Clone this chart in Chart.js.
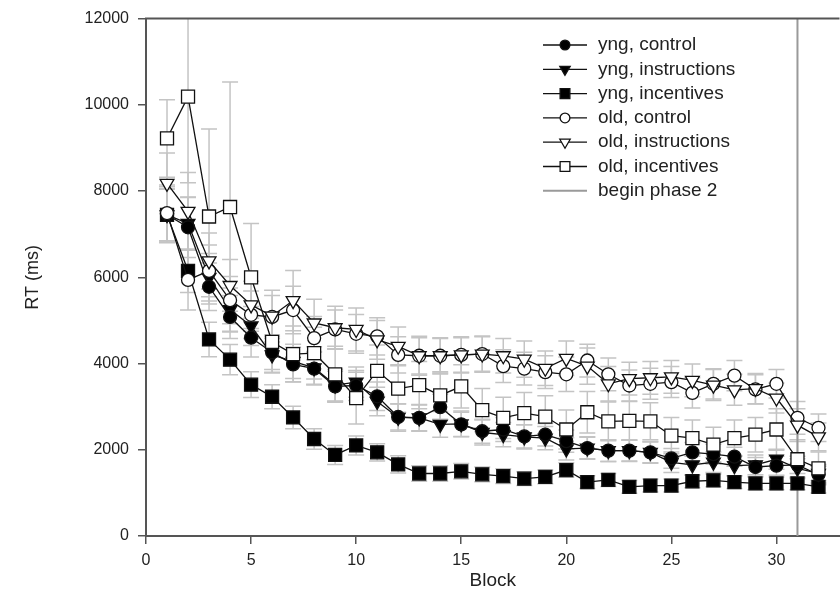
<!DOCTYPE html>
<html>
<head>
<meta charset="utf-8">
<script src="https://cdn.jsdelivr.net/npm/chart.js@4/dist/chart.umd.min.js"></script>
<style>
  html, body { margin: 0; padding: 0; background: #fff; overflow: hidden; }
</style>
</head>
<body>
<canvas id="rt" width="850" height="589"></canvas>
<script>
// block numbers
const blocks = [1, 2, 3, 4, 5, 6, 7, 8, 9, 10, 11, 12, 13, 14, 15, 16,
  17, 18, 19, 20, 21, 22, 23, 24, 25, 26, 27, 28, 29, 30, 31, 32];

// mean RT (ms) per group
const yngControl = [7450, 7160, 5780, 5080, 4600, 4260, 3980, 3880, 3470, 3490, 3240, 2760, 2740, 2990, 2590, 2430,
  2470, 2310, 2350, 2200, 2040, 1980, 1980, 1940, 1800, 1940, 1900, 1840, 1600, 1630, 1650, 1420];
const yngInstructions = [7450, 7250, 6000, 5250, 4870, 4200, 4050, 3900, 3500, 3570, 3120, 2750, 2740, 2590, 2600, 2400,
  2350, 2300, 2270, 2020, 2040, 1980, 1980, 1940, 1710, 1650, 1710, 1630, 1650, 1780, 1570, 1450];
const yngIncentives = [7450, 6150, 4560, 4090, 3510, 3230, 2750, 2250, 1880, 2100, 1940, 1660, 1450, 1450, 1500, 1430,
  1390, 1330, 1370, 1530, 1250, 1300, 1140, 1170, 1170, 1270, 1290, 1250, 1220, 1220, 1220, 1140];
const oldControl = [7490, 5940, 6150, 5470, 5130, 5080, 5240, 4590, 4790, 4690, 4630, 4200, 4180, 4180, 4200, 4220,
  3940, 3880, 3800, 3750, 4070, 3750, 3490, 3530, 3570, 3320, 3530, 3720, 3400, 3530, 2740, 2510];
const oldInstructions = [8180, 7530, 6380, 5810, 5360, 5100, 5460, 4940, 4830, 4790, 4550, 4400, 4180, 4180, 4200, 4220,
  4180, 4100, 3890, 4120, 3940, 3530, 3650, 3670, 3690, 3610, 3500, 3390, 3420, 3200, 2570, 2300];
const oldIncentives = [9220, 10190, 7410, 7630, 6000, 4500, 4220, 4240, 3750, 3200, 3830, 3420, 3500, 3260, 3470, 2920,
  2740, 2850, 2770, 2470, 2870, 2660, 2670, 2660, 2330, 2270, 2120, 2270, 2350, 2470, 1780, 1570];

// error bar half-lengths (ms)
const yngControlErr = [600, 700, 550, 500, 450, 400, 400, 380, 350, 350, 330, 300, 300, 300, 280, 280,
  280, 270, 260, 260, 250, 250, 240, 240, 230, 230, 230, 220, 220, 220, 200, 200];
const yngInstructionsErr = [650, 600, 550, 500, 450, 420, 400, 380, 370, 350, 330, 320, 310, 300, 300, 290,
  280, 280, 270, 260, 260, 250, 250, 250, 240, 240, 240, 230, 230, 230, 220, 210];
const yngIncentivesErr = [600, 500, 400, 350, 300, 280, 260, 240, 220, 220, 200, 200, 180, 180, 180, 170,
  170, 160, 160, 170, 150, 150, 150, 150, 150, 150, 150, 150, 150, 150, 150, 140];
const oldControlErr = [650, 700, 600, 550, 550, 500, 550, 500, 450, 450, 430, 420, 420, 400, 400, 400,
  380, 380, 380, 400, 380, 380, 360, 360, 360, 350, 350, 350, 340, 330, 380, 320];
const oldInstructionsErr = [700, 900, 650, 600, 550, 600, 700, 550, 500, 500, 450, 450, 450, 420, 420, 420,
  400, 420, 400, 400, 420, 400, 380, 380, 380, 380, 360, 360, 350, 350, 380, 320];
const oldIncentivesErr = [900, 2000, 2030, 2900, 1250, 700, 650, 600, 650, 600, 600, 550, 550, 550, 500, 500,
  480, 480, 480, 450, 480, 450, 450, 430, 420, 420, 400, 420, 400, 480, 450, 380];

const phase2Block = 31;
const yTicks = [0, 2000, 4000, 6000, 8000, 10000, 12000];

const FONT = 'Liberation Sans, Arial, sans-serif';
const INK = '#222';

function series(label, values, err, style, fill, order) {
  const radius = style === 'circle' ? 6.5 : style === 'triangle' ? 8 : 9.2;
  return {
    label,
    data: blocks.map((b, i) => ({ x: b, y: values[i] })),
    err,
    borderColor: '#111',
    borderWidth: 1.3,
    pointStyle: style,
    rotation: style === 'triangle' ? 180 : 0,
    pointRadius: radius,
    pointBorderWidth: 1.3,
    pointBorderColor: '#111',
    pointBackgroundColor: fill,
    order,
  };
}

const datasets = [
  series('yng, control', yngControl, yngControlErr, 'circle', '#000', 4),
  series('yng, instructions', yngInstructions, yngInstructionsErr, 'triangle', '#000', 5),
  series('yng, incentives', yngIncentives, yngIncentivesErr, 'rect', '#000', 6),
  series('old, control', oldControl, oldControlErr, 'circle', '#fff', 2),
  series('old, instructions', oldInstructions, oldInstructionsErr, 'triangle', '#fff', 1),
  series('old, incentives', oldIncentives, oldIncentivesErr, 'rect', '#fff', 0),
  {
    label: 'begin phase 2',
    data: [{ x: phase2Block, y: yTicks[0] }, { x: phase2Block, y: yTicks[yTicks.length - 1] }],
    borderColor: '#9a9a9a',
    borderWidth: 2,
    pointRadius: 0,
    order: 10,
  },
];

// 灰色のエラーバー（データ描画の前に）
const errorBars = {
  id: 'errorBars',
  beforeDatasetsDraw(chart) {
    const { ctx, chartArea, scales: { x, y } } = chart;
    ctx.save();
    ctx.beginPath();
    ctx.rect(chartArea.left, chartArea.top, chartArea.right - chartArea.left, chartArea.bottom - chartArea.top);
    ctx.clip();
    ctx.strokeStyle = '#c4c4c4';
    ctx.lineWidth = 1.5;
    chart.data.datasets.forEach((ds) => {
      if (!ds.err) return;
      ds.data.forEach((p, i) => {
        const px = x.getPixelForValue(p.x);
        const top = y.getPixelForValue(p.y + ds.err[i]);
        const bot = y.getPixelForValue(p.y - ds.err[i]);
        ctx.beginPath();
        ctx.moveTo(px, top); ctx.lineTo(px, bot);
        ctx.moveTo(px - 8, top); ctx.lineTo(px + 8, top);
        ctx.moveTo(px - 8, bot); ctx.lineTo(px + 8, bot);
        ctx.stroke();
      });
    });
    ctx.restore();
  },
};

// 上枠線と凡例
const frameAndLegend = {
  id: 'frameAndLegend',
  afterDraw(chart) {
    const { ctx, chartArea } = chart;
    ctx.save();
    ctx.strokeStyle = '#555';
    ctx.lineWidth = 2;
    ctx.beginPath();
    ctx.moveTo(chartArea.left - 1, chartArea.top);
    ctx.lineTo(chartArea.right, chartArea.top);
    ctx.stroke();

    const x0 = 543, x1 = 587, tx = 598;
    let ty = 45;
    ctx.font = '19px ' + FONT;
    ctx.textBaseline = 'middle';
    ctx.fillStyle = INK;
    chart.data.datasets.forEach((ds) => {
      ctx.strokeStyle = ds.borderColor;
      ctx.lineWidth = ds.err ? 1.3 : 2;
      ctx.beginPath();
      ctx.moveTo(x0, ty); ctx.lineTo(x1, ty);
      ctx.stroke();
      if (ds.err) {
        ctx.fillStyle = ds.pointBackgroundColor;
        ctx.strokeStyle = ds.pointBorderColor;
        Chart.helpers.drawPoint(ctx, {
          pointStyle: ds.pointStyle,
          rotation: ds.rotation,
          radius: ds.pointRadius * 0.75,
          borderWidth: 1.3,
        }, (x0 + x1) / 2, ty);
      }
      ctx.fillStyle = INK;
      ctx.fillText(ds.label, tx, ty);
      ty += 24.3;
    });
    ctx.restore();
  },
};

new Chart(document.getElementById('rt'), {
  type: 'line',
  data: { datasets },
  plugins: [errorBars, frameAndLegend],
  options: {
    responsive: false,
    animation: false,
    layout: { padding: { top: 18, right: 3, left: 0, bottom: 0 } },
    plugins: { legend: { display: false }, tooltip: { enabled: false } },
    scales: {
      x: {
        type: 'linear',
        min: 0,
        max: 33,
        afterFit: (s) => { s.height = 53; },
        afterBuildTicks: (s) => { s.ticks = s.ticks.filter((t) => t.value % 5 === 0); },
        ticks: { stepSize: 5, color: INK, font: { family: FONT, size: 16 }, padding: 7, maxRotation: 0,
          callback: (v) => String(v) },
        grid: { drawOnChartArea: false, tickLength: 8, color: '#555', lineWidth: 1.5 },
        border: { color: '#555', width: 2 },
        title: { display: true, text: 'Block', color: INK, font: { family: FONT, size: 19 }, padding: { top: 0, bottom: -3 } },
      },
      y: {
        min: 0,
        max: 12000,
        afterFit: (s) => { s.width = 146; },
        afterBuildTicks: (s) => { s.ticks = yTicks.map((v) => ({ value: v })); },
        ticks: { color: INK, font: { family: FONT, size: 16 }, padding: 9, callback: (v) => String(v) },
        grid: { drawOnChartArea: false, tickLength: 8, color: '#555', lineWidth: 1.5 },
        border: { color: '#555', width: 2 },
        title: { display: true, text: 'RT (ms)', color: INK, font: { family: FONT, size: 18 }, padding: { top: 22, bottom: 0 } },
      },
    },
  },
});
</script>
</body>
</html>
